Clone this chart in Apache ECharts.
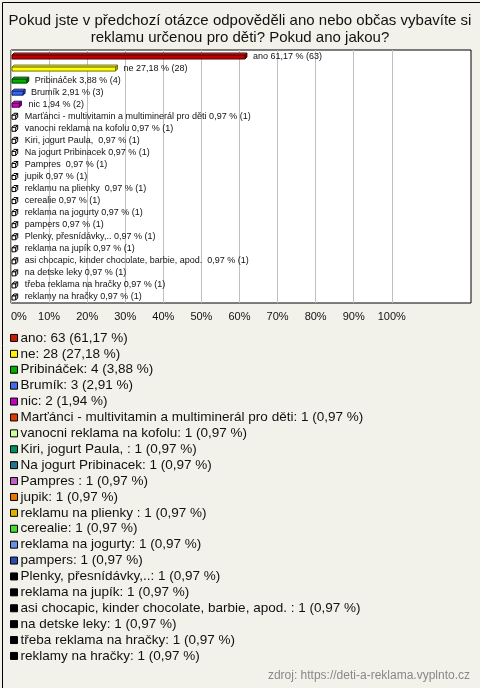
<!DOCTYPE html>
<html>
<head>
<meta charset="utf-8">
<script src="https://cdn.jsdelivr.net/npm/echarts@6/dist/echarts.min.js"></script>
<style>
html,body{margin:0;padding:0;background:#f3f2ea;}
#chart{width:480px;height:688px;}
</style>
</head>
<body>
<div id="chart"></div>
<script>
// ---- data ----
const categories = [
  "ano", "ne", "Pribináček", "Brumík", "nic",
  "Marťánci - multivitamin a multiminerál pro děti",
  "vanocni reklama na kofolu", "Kiri, jogurt Paula, ", "Na jogurt Pribinacek",
  "Pampres ", "jupik", "reklamu na plienky ", "cerealie", "reklama na jogurty",
  "pampers", "Plenky, přesnídávky,..", "reklama na jupík",
  "asi chocapic, kinder chocolate, barbie, apod. ", "na detske leky",
  "třeba reklama na hračky", "reklamy na hračky"
];
const counts = [63, 28, 4, 3, 2, 1, 1, 1, 1, 1, 1, 1, 1, 1, 1, 1, 1, 1, 1, 1, 1];
const percents = [61.17, 27.18, 3.88, 2.91, 1.94, 0.97, 0.97, 0.97, 0.97, 0.97, 0.97,
  0.97, 0.97, 0.97, 0.97, 0.97, 0.97, 0.97, 0.97, 0.97, 0.97];
const tickValues = [0, 10, 20, 30, 40, 50, 60, 70, 80, 90, 100];
const titleText = "Pokud jste v předchozí otázce odpověděli ano nebo občas vybavíte si\nreklamu určenou pro děti? Pokud ano jakou?";
const sourceText = "zdroj: https://deti-a-reklama.vyplnto.cz";

// ---- styles ----
const legendColors = ["#cc1a00", "#ffee00", "#00b000", "#3f6cf0", "#c400c4", "#e03c00",
  "#ccff99", "#009060", "#207890", "#c060c0", "#e87800", "#e0b000", "#44dd33",
  "#6c8ee8", "#2a4db0", "#000000", "#000000", "#000000", "#000000", "#000000", "#000000"];
const barFront = ["#c00000", "#ffff00", "#00b000", "#3366ff", "#cc00cc"];
const barTop = ["#e04040", "#ffff80", "#40d040", "#6690ff", "#e040e0"];
const barSide = ["#800000", "#b0b000", "#007000", "#2040b0", "#800080"];
const barStroke = ["#500000", "#707000", "#004000", "#102060", "#400040"];
const FONT = "'Liberation Sans', Arial, sans-serif";

function fmtPct(v) { return v.toFixed(2).replace('.', ','); }

function renderItem(params, api) {
  const i = params.seriesIndex;
  const v = api.value(0), c = api.value(1);
  const p0 = api.coord([0, c]);
  const p1 = api.coord([v, c]);
  const yc = p0[1];
  const x0 = p0[0] + 1, x1 = p1[0] + 1;
  const d = 2;
  const yt = yc - 1, yb = yc + 3;
  const front = barFront[i] || "#ffffff";
  const top = barTop[i] || "#ffffff";
  const side = barSide[i] || "#ffffff";
  const stroke = barStroke[i] || "#000000";
  const label = categories[i] + " " + fmtPct(percents[i]) + " % (" + counts[i] + ")";
  return {
    type: 'group',
    children: [
      { type: 'polygon', shape: { points: [[x0, yt], [x0 + d, yt - d], [x1 + d, yt - d], [x1, yt]] },
        style: { fill: top, stroke: stroke, lineWidth: 1 } },
      { type: 'polygon', shape: { points: [[x1, yt], [x1 + d, yt - d], [x1 + d, yb - d], [x1, yb]] },
        style: { fill: side, stroke: stroke, lineWidth: 1 } },
      { type: 'rect', shape: { x: x0, y: yt, width: x1 - x0, height: yb - yt },
        style: { fill: front, stroke: stroke, lineWidth: 1 } },
      { type: 'text', x: x1 + d + (v < 2 ? 7 : 6), y: yc,
        style: { text: label, fill: '#111', font: '9px ' + FONT, verticalAlign: 'middle', align: 'left' } }
    ]
  };
}

const series = categories.map((name, i) => ({
  name: name,
  type: 'custom',
  renderItem: renderItem,
  encode: { x: 0, y: 1 },
  itemStyle: { color: legendColors[i] },
  data: [[percents[i], i]],
  silent: true,
  animation: false
}));

const chart = echarts.init(document.getElementById('chart'), null, { renderer: 'canvas' });
chart.setOption({
  backgroundColor: '#f3f2ea',
  animation: false,
  textStyle: { fontFamily: FONT },
  title: {
    text: titleText,
    left: 'center',
    top: 7,
    textStyle: { fontSize: 15, fontWeight: 'normal', color: '#111', lineHeight: 17, fontFamily: FONT }
  },
  grid: {
    left: 11, right: 9, top: 50, bottom: 385,
    show: true, backgroundColor: '#ffffff', borderColor: '#000000', borderWidth: 1,
    containLabel: false
  },
  xAxis: {
    type: 'value', min: 0, max: 120.8,
    axisLine: { show: false },
    axisTick: { show: false, customValues: tickValues },
    splitLine: { show: true, lineStyle: { color: '#c0c0c0', width: 1 } },
    axisLabel: { customValues: tickValues, formatter: '{value}%', color: '#111', fontSize: 11,
      margin: 8, fontFamily: FONT, alignMinLabel: 'left' }
  },
  yAxis: {
    type: 'category', data: categories, inverse: true,
    axisLine: { show: false }, axisTick: { show: false }, axisLabel: { show: false },
    splitLine: { show: false }
  },
  legend: {
    orient: 'vertical', left: 10, top: 330, padding: 0,
    icon: 'rect', itemWidth: 7, itemHeight: 7, itemGap: 0,
    selectedMode: false,
    textStyle: { fontSize: 13.5, lineHeight: 15.9, color: '#111', fontFamily: FONT, padding: [0, 0, 0, -2] },
    data: categories.map((n, i) => ({ name: n, itemStyle: { color: legendColors[i], borderColor: '#000', borderWidth: 1 } })),
    formatter: function (name) {
      const i = categories.indexOf(name);
      return name + ": " + counts[i] + " (" + fmtPct(percents[i]) + " %)";
    }
  },
  graphic: [
    { type: 'text', right: 10, bottom: 6,
      style: { text: sourceText, fill: '#888', font: '12px ' + FONT } },
    { type: 'rect', left: 0, top: 0, silent: true,
      shape: { x: 0, y: 0, width: 479, height: 687 },
      style: { fill: 'none', stroke: '#000', lineWidth: 1 } }
  ],
  series: series
});
</script>
</body>
</html>
